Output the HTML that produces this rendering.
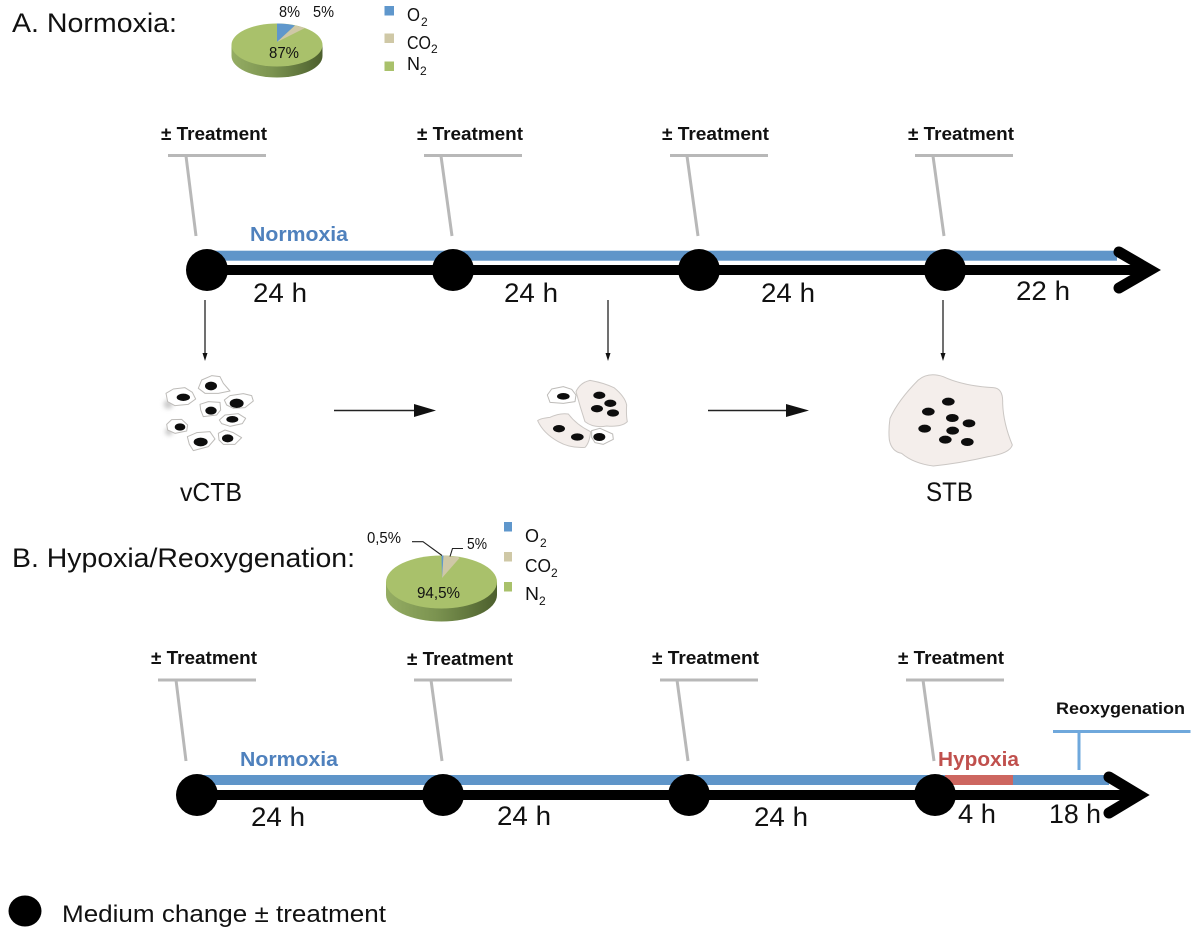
<!DOCTYPE html>
<html><head><meta charset="utf-8"><style>
html,body{margin:0;padding:0;background:#fff}
svg{display:block}
text{font-family:"Liberation Sans",sans-serif;fill:#111}
.h{font-size:27px}
.t{font-size:18px;font-weight:bold}
.d{font-size:26.5px}
.l{font-size:18px}
.s{font-size:12px}
.p{font-size:15.5px}
.f{fill:#f4eeeb;stroke:#cbc7c4;stroke-width:3}
.c{fill:#fff;stroke:#bdbbb8;stroke-width:3;stroke-linejoin:round}
</style></head><body>
<svg width="1200" height="928" viewBox="0 0 1200 928" xmlns="http://www.w3.org/2000/svg">
<defs>
<linearGradient id="g" x1="0" x2="1" y1="0" y2="0"><stop offset="0" stop-color="#95ad63"/><stop offset=".45" stop-color="#7b9350"/><stop offset="1" stop-color="#4c5f2d"/></linearGradient>
<filter id="b" x="-5%" y="-5%" width="110%" height="110%"><feGaussianBlur stdDeviation="0.6"/></filter>
<filter id="b2" x="-50%" y="-50%" width="200%" height="200%"><feGaussianBlur stdDeviation="6"/></filter>
</defs>

<!-- Headers -->
<text class="h" x="12" y="32" textLength="165" lengthAdjust="spacingAndGlyphs">A. Normoxia:</text>
<text class="h" x="12" y="567" textLength="343" lengthAdjust="spacingAndGlyphs">B. Hypoxia/Reoxygenation:</text>

<!-- Pie A -->
<ellipse cx="277" cy="56" rx="45.500" ry="21.500" fill="url(#g)"/>
<rect x="231.500" y="45" width="91" height="11" fill="url(#g)"/>
<ellipse cx="277" cy="45" rx="45.500" ry="21.500" fill="#a9c16b"/>
<path d="M277,42L277,23.500A45.500,21.500 0 0 1 295,25.500z" fill="#5f97cc"/>
<path d="M277,42L295,25.500A45.500,21.500 0 0 1 305,28z" fill="#cfc8a6"/>
<text class="p" x="279" y="17" textLength="21" lengthAdjust="spacingAndGlyphs">8%</text>
<text class="p" x="313" y="17" textLength="21" lengthAdjust="spacingAndGlyphs">5%</text>
<text class="p" x="269" y="58" textLength="30" lengthAdjust="spacingAndGlyphs">87%</text>
<rect x="384.500" y="6" width="9.500" height="9.500" fill="#5f97cc"/>
<rect x="384.500" y="33.500" width="9.500" height="9.500" fill="#cfc8a6"/>
<rect x="384.500" y="61.500" width="9.500" height="9.500" fill="#a9c16b"/>
<text class="l" x="407" y="21" textLength="13" lengthAdjust="spacingAndGlyphs">O</text><text class="s" x="421" y="26">2</text>
<text class="l" x="407" y="49" textLength="24" lengthAdjust="spacingAndGlyphs">CO</text><text class="s" x="431" y="53">2</text>
<text class="l" x="407" y="70" textLength="13" lengthAdjust="spacingAndGlyphs">N</text><text class="s" x="420" y="75">2</text>

<!-- Timeline A -->
<rect x="207" y="250.700" width="910" height="10" fill="#5f95c9"/>
<rect x="207" y="265" width="938" height="10" fill="#000"/>
<path d="M1119,252L1150,270L1119,288" fill="none" stroke="#000" stroke-width="11" stroke-linecap="round"/>
<g fill="#000"><circle cx="207" cy="270" r="21"/><circle cx="453" cy="270" r="21"/><circle cx="699" cy="270" r="21"/><circle cx="945" cy="270" r="21"/></g>
<text x="250" y="241" font-size="20.500" font-weight="bold" style="fill:#4f81bd" textLength="98" lengthAdjust="spacingAndGlyphs">Normoxia</text>
<text class="d" x="253" y="302" textLength="54" lengthAdjust="spacingAndGlyphs">24 h</text>
<text class="d" x="504" y="302" textLength="54" lengthAdjust="spacingAndGlyphs">24 h</text>
<text class="d" x="761" y="302" textLength="54" lengthAdjust="spacingAndGlyphs">24 h</text>
<text class="d" x="1016" y="300" textLength="54" lengthAdjust="spacingAndGlyphs">22 h</text>
<text class="t" x="161" y="140" textLength="106" lengthAdjust="spacingAndGlyphs">± Treatment</text>
<text class="t" x="417" y="140" textLength="106" lengthAdjust="spacingAndGlyphs">± Treatment</text>
<text class="t" x="662" y="140" textLength="107" lengthAdjust="spacingAndGlyphs">± Treatment</text>
<text class="t" x="908" y="140" textLength="106" lengthAdjust="spacingAndGlyphs">± Treatment</text>
<g fill="none" stroke="#b8b8b8" stroke-width="3">
<path d="M168,155.500H266M186,156L196,236"/>
<path d="M424,155.500H522M441,156L452,236"/>
<path d="M670,155.500H768M687,156L698,236"/>
<path d="M915,155.500H1013M933,156L944,236"/>
</g>

<!-- Arrows -->
<g stroke="#222" stroke-width="1.300" fill="#111">
<path d="M205,300V354"/><path d="M608,300V354"/><path d="M943,300V354"/>
<path d="M334,410.500H416" stroke-width="1.600"/><path d="M708,410.500H788" stroke-width="1.600"/>
</g>
<g fill="#111">
<path d="M202.500,353h5L205,361z"/><path d="M605.500,353h5L608,361z"/><path d="M940.500,353h5L943,361z"/>
<path d="M414,404L436,410.500L414,417z"/><path d="M786,404L809,410.500L786,417z"/>
</g>

<!-- vCTB cells -->
<g transform="translate(155,365) scale(.3333)">
<ellipse cx="40" cy="118" rx="14" ry="14" fill="#ccc" filter="url(#b2)"/>
<ellipse cx="42" cy="200" rx="12" ry="12" fill="#ccc" filter="url(#b2)"/>
<g filter="url(#b)">
<g class="c">
<polygon class="c" points="33,85 55,72 90,68 112,82 122,102 100,118 60,122 38,110"/>
<polygon class="c" points="130,70 140,45 170,32 195,35 205,55 225,78 190,85 150,85"/>
<polygon class="c" points="208,105 225,92 265,86 290,92 295,108 270,128 235,130 215,120"/>
<polygon class="c" points="135,118 160,110 195,112 197,135 185,150 145,155 137,135"/>
<polygon class="c" points="193,165 210,150 250,146 272,160 262,176 225,184 200,176"/>
<polygon class="c" points="35,178 50,164 80,163 98,180 95,198 60,205 38,195"/>
<polygon class="c" points="97,215 125,203 165,200 180,222 160,245 115,257 103,238"/>
<polygon class="c" points="190,205 210,195 235,203 260,218 240,238 205,238 192,225"/>
</g>
<g fill="#111">
<ellipse cx="85" cy="97" rx="20" ry="11"/><ellipse cx="168" cy="63" rx="18" ry="13"/><ellipse cx="245" cy="115" rx="21" ry="14"/><ellipse cx="168" cy="137" rx="17" ry="12"/><ellipse cx="232" cy="163" rx="18" ry="10"/><ellipse cx="75" cy="186" rx="16" ry="11"/><ellipse cx="137" cy="231" rx="21" ry="13"/><ellipse cx="218" cy="220" rx="17" ry="12"/>
</g>
</g>
</g>
<text x="180" y="501" font-size="26" textLength="62" lengthAdjust="spacingAndGlyphs">vCTB</text>

<!-- Middle cells -->
<g transform="translate(500,350) scale(.3333)" filter="url(#b)">
<polygon class="c" points="142,135 155,117 190,110 215,118 228,135 225,155 190,160 150,157"/>
<path class="f" d="M228,125Q240,98 270,91Q310,98 342,113Q375,140 380,165Q378,195 382,215Q365,232 320,228Q280,235 255,215Q240,170 228,125z"/>
<path class="f" d="M113,212Q120,205 150,202Q180,188 205,192Q230,225 272,245Q268,280 255,292Q210,295 175,275Q130,250 113,212z"/>
<polygon class="c" points="275,242 300,235 338,252 340,268 310,283 285,278 275,262"/>
<g fill="#111">
<ellipse cx="190" cy="139" rx="19" ry="10"/><ellipse cx="298" cy="136" rx="18" ry="11"/><ellipse cx="331" cy="160" rx="18" ry="11"/><ellipse cx="291" cy="176" rx="18" ry="11"/><ellipse cx="339" cy="189" rx="18" ry="11"/><ellipse cx="177" cy="236" rx="18" ry="11"/><ellipse cx="232" cy="261" rx="19" ry="11"/><ellipse cx="298" cy="261" rx="18" ry="12"/>
</g>
</g>

<!-- STB -->
<g transform="translate(860,350) scale(.3333)" filter="url(#b)">
<path class="f" d="M90,205Q115,150 175,90Q205,65 250,80Q310,108 400,113Q430,115 428,160Q430,220 457,285Q450,310 385,320Q300,340 220,348Q160,340 125,310Q95,305 88,270Q85,240 90,205z"/>
<g fill="#111">
<ellipse cx="265" cy="155" rx="19" ry="12"/><ellipse cx="205" cy="185" rx="19" ry="12"/><ellipse cx="277" cy="204" rx="19" ry="12"/><ellipse cx="327" cy="220" rx="19" ry="12"/><ellipse cx="194" cy="236" rx="19" ry="12"/><ellipse cx="278" cy="242" rx="19" ry="12"/><ellipse cx="256" cy="269" rx="19" ry="12"/><ellipse cx="322" cy="276" rx="19" ry="12"/>
</g>
</g>
<text x="926" y="501" font-size="27" textLength="47" lengthAdjust="spacingAndGlyphs">STB</text>

<!-- Pie B -->
<ellipse cx="441.500" cy="595" rx="55.500" ry="26.500" fill="url(#g)"/>
<rect x="386" y="582" width="111" height="13" fill="url(#g)"/>
<ellipse cx="441.500" cy="582" rx="55.500" ry="26.500" fill="#a9c16b"/>
<path d="M442,578L443,555.500L458,557L459.500,558z" fill="#cfc8a6"/>
<path d="M442,578L441.500,555.500L443.500,555.500z" fill="#5f97cc"/>
<path d="M412,541.700H423L442,555.500M450,556.500L452.500,548.500H463" fill="none" stroke="#222" stroke-width="1.100"/>
<text class="p" x="367" y="543" textLength="34" lengthAdjust="spacingAndGlyphs">0,5%</text>
<text class="p" x="467" y="549" textLength="20" lengthAdjust="spacingAndGlyphs">5%</text>
<text class="p" x="417" y="598" textLength="43" lengthAdjust="spacingAndGlyphs">94,5%</text>
<rect x="504" y="522" width="8" height="9.500" fill="#5f97cc"/>
<rect x="504" y="552" width="8" height="9.500" fill="#cfc8a6"/>
<rect x="504" y="582" width="8" height="9.500" fill="#a9c16b"/>
<text class="l" x="525" y="542" textLength="14" lengthAdjust="spacingAndGlyphs">O</text><text class="s" x="540" y="547">2</text>
<text class="l" x="525" y="572" textLength="26" lengthAdjust="spacingAndGlyphs">CO</text><text class="s" x="551" y="577">2</text>
<text class="l" x="525" y="600" textLength="14" lengthAdjust="spacingAndGlyphs">N</text><text class="s" x="539" y="605">2</text>

<!-- Timeline B -->
<rect x="197" y="775" width="912" height="10" fill="#5f95c9"/>
<rect x="945" y="775" width="68" height="10" fill="#cd6660"/>
<rect x="197" y="790" width="938" height="10" fill="#000"/>
<path d="M1109,777L1139,795L1109,813" fill="none" stroke="#000" stroke-width="11" stroke-linecap="round"/>
<g fill="#000"><circle cx="197" cy="795" r="21"/><circle cx="443" cy="795" r="21"/><circle cx="689" cy="795" r="21"/><circle cx="935" cy="795" r="21"/></g>
<text x="240" y="766" font-size="20.500" font-weight="bold" style="fill:#4f81bd" textLength="98" lengthAdjust="spacingAndGlyphs">Normoxia</text>
<text x="938" y="766" font-size="20.500" font-weight="bold" style="fill:#c0504d" textLength="81" lengthAdjust="spacingAndGlyphs">Hypoxia</text>
<text x="1056" y="714" font-size="16.500" font-weight="bold" textLength="129" lengthAdjust="spacingAndGlyphs">Reoxygenation</text>
<path d="M1053,731.500H1190.500M1079,731.500V770" fill="none" stroke="#6fa8dc" stroke-width="3"/>
<text class="d" x="251" y="826" textLength="54" lengthAdjust="spacingAndGlyphs">24 h</text>
<text class="d" x="497" y="825" textLength="54" lengthAdjust="spacingAndGlyphs">24 h</text>
<text class="d" x="754" y="826" textLength="54" lengthAdjust="spacingAndGlyphs">24 h</text>
<text class="d" x="958" y="823" textLength="38" lengthAdjust="spacingAndGlyphs">4 h</text>
<text class="d" x="1049" y="823" textLength="52" lengthAdjust="spacingAndGlyphs">18 h</text>
<text class="t" x="151" y="664" textLength="106" lengthAdjust="spacingAndGlyphs">± Treatment</text>
<text class="t" x="407" y="665" textLength="106" lengthAdjust="spacingAndGlyphs">± Treatment</text>
<text class="t" x="652" y="664" textLength="107" lengthAdjust="spacingAndGlyphs">± Treatment</text>
<text class="t" x="898" y="664" textLength="106" lengthAdjust="spacingAndGlyphs">± Treatment</text>
<g fill="none" stroke="#b8b8b8" stroke-width="3">
<path d="M158,680H256M176,680L186,761"/>
<path d="M414,680H512M431,680L442,761"/>
<path d="M660,680H758M677,680L688,761"/>
<path d="M906,680H1004M923,680L934,761"/>
</g>

<!-- Key -->
<ellipse cx="25" cy="911" rx="16.500" ry="15.500" fill="#000"/>
<text x="62" y="922" font-size="24" textLength="324" lengthAdjust="spacingAndGlyphs">Medium change ± treatment</text>
</svg>
</body></html>
